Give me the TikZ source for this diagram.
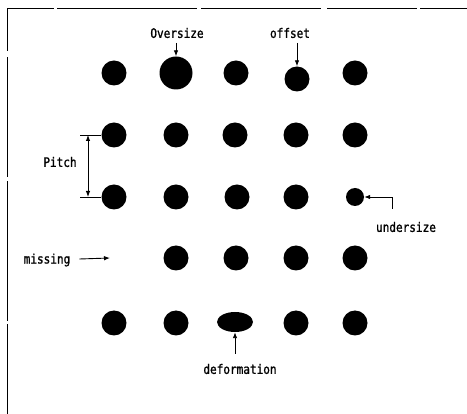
\documentclass[tikz,border=0pt]{standalone}
\usepackage{fontspec}
\newfontfamily\lblfont[FakeStretch=0.85,FakeBold=1.2]{DejaVu Sans Mono}
\usetikzlibrary{shapes.geometric,arrows.meta}
\begin{document}
\begin{tikzpicture}[x=1pt,y=-1pt,
  dot/.style={circle,fill=black,inner sep=0pt,minimum size=25pt},
  lbl/.style={inner sep=1pt,font=\lblfont\fontsize{13}{13}\selectfont},
  arr/.style={-{Latex[length=6pt,width=4.5pt]},line width=0.9pt},
  frame/.style={line width=0.8pt,dash pattern=on 90pt off 3pt on 140pt off 4pt on 120pt off 6pt}]
\useasboundingbox (0,0) rectangle (467,414);
% broken outer frame
\draw[frame] (7,414) -- (7,8) -- (467,8);
% row 1
\node[dot] (a11) at (114,73) {};
\node[dot,minimum size=33pt] (a12) at (176,73) {};
\node[dot] (a13) at (236,73) {};
\node[dot] (a14) at (297,79) {};
\node[dot] (a15) at (355,73) {};
% row 2
\node[dot] (a21) at (114,135) {};
\node[dot] (a22) at (176,135) {};
\node[dot] (a23) at (235,135) {};
\node[dot] (a24) at (296,135) {};
\node[dot] (a25) at (355,135) {};
% row 3
\node[dot] (a31) at (114,197) {};
\node[dot] (a32) at (176,197) {};
\node[dot] (a33) at (237,197) {};
\node[dot] (a34) at (296,197) {};
\node[dot,minimum size=18pt] (a35) at (355,197) {};
% row 4 (first position empty)
\coordinate (a41) at (114,258);
\node[dot] (a42) at (176,258) {};
\node[dot] (a43) at (236,258) {};
\node[dot] (a44) at (296,258) {};
\node[dot] (a45) at (355,258) {};
% row 5
\node[dot] (a51) at (114,323) {};
\node[dot] (a52) at (176,323) {};
\node[ellipse,fill=black,inner sep=0pt,minimum width=36pt,minimum height=20pt] (a53) at (235,322) {};
\node[dot] (a54) at (296,323) {};
\node[dot] (a55) at (355,323) {};
% oversize
\node[lbl] (ov) at (177,33) {Oversize};
\draw[arr] (176,43) -- (a12.north);
% offset
\node[lbl] (of) at (290,33) {offset};
\draw[arr] (297,43) -- (a14.north);
% pitch
\coordinate (p1) at (80,135);
\coordinate (p2) at (80,197);
\draw[line width=0.9pt] (p1) -- (a21.west);
\draw[line width=0.9pt] (p2) -- (a31.west);
\draw[{Latex[length=6pt,width=4.5pt]}-{Latex[length=6pt,width=4.5pt]},line width=0.9pt] (88,135) -- (88,197);
\node[lbl] (pitch) at (60,162) {Pitch};
% undersize
\coordinate (u1) at (392,209);
\draw[arr] (u1) -- (392,197) -- (a35.east);
\node[lbl] (us) at (406,227) {undersize};
% missing
\node[lbl] (ms) at (47,260) {missing};
\draw[arr] (ms.east) ++(8,-1) -- ([xshift=-4pt]a41);
% deformation
\node[lbl] (df) at (240,369) {deformation};
\draw[arr] (235,354) -- (a53.south);
\end{tikzpicture}
\end{document}
